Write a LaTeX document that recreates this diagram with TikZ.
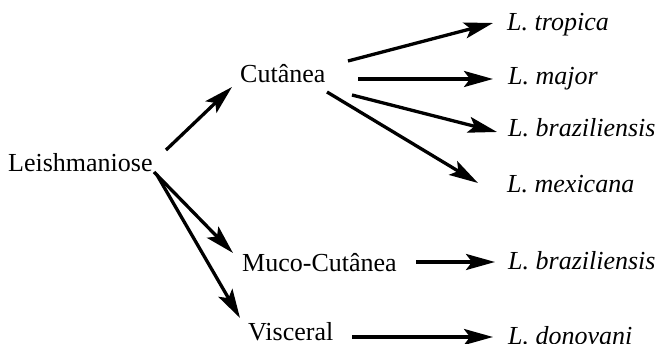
\documentclass[tikz,border=0pt]{standalone}
\usepackage{fontspec}
\setmainfont{Liberation Serif}
\usetikzlibrary{arrows.meta}
\begin{document}
\begin{tikzpicture}[x=1pt,y=-1pt,
  lbl/.style={anchor=base west,inner sep=0pt,font=\fontsize{26}{30}\selectfont},
  sp/.style={lbl,font=\fontsize{26}{30}\selectfont\itshape},
  arr/.style={line width=3.3pt,-{Stealth[length=29pt,width=16pt,inset=6pt]}}]
\useasboundingbox (0,0) rectangle (662,344);
% disease forms
\node[lbl] (lei) at (8,172) {Leishmaniose};
\node[lbl] (cut) at (240,83) {Cutânea};
\node[lbl] (muc) at (242,272) {Muco-Cutânea};
\node[lbl] (vis) at (248,341) {Visceral};
% species
\node[sp] (tro) at (507,31) {L. tropica};
\node[sp] (maj) at (508,85) {L. major};
\node[sp] (bra) at (508,137) {L. braziliensis};
\node[sp] (mex) at (507,193) {L. mexicana};
\node[sp] (mbr) at (508,270) {L. braziliensis};
\node[sp] (don) at (508,345) {L. donovani};
% forms of the disease
\draw[arr] ([shift={(158,-22)}]lei.base west) -- ([shift={(-8,4)}]cut.base west);
\draw[arr] ([shift={(146,0)}]lei.base west) -- ([shift={(-9,-19)}]muc.base west);
\draw[arr] ([shift={(149,3)}]lei.base west) -- ([shift={(-8,-23)}]vis.base west);
% species behind each form
\draw[arr] ([shift={(108,-22)}]cut.base west) -- ([shift={(-14,-8)}]tro.base west);
\draw[arr] ([shift={(118,-4)}]cut.base west) -- ([shift={(-15,-6)}]maj.base west);
\draw[arr] ([shift={(112,12)}]cut.base west) -- ([shift={(-11,-5)}]bra.base west);
\draw[arr] ([shift={(87,9)}]cut.base west) -- ([shift={(-29,-10)}]mex.base west);
\draw[arr] ([shift={(174,-10)}]muc.base west) -- ([shift={(-13,-8)}]mbr.base west);
\draw[arr] ([shift={(104,-4)}]vis.base west) -- ([shift={(-15,-8)}]don.base west);
\end{tikzpicture}
\end{document}
